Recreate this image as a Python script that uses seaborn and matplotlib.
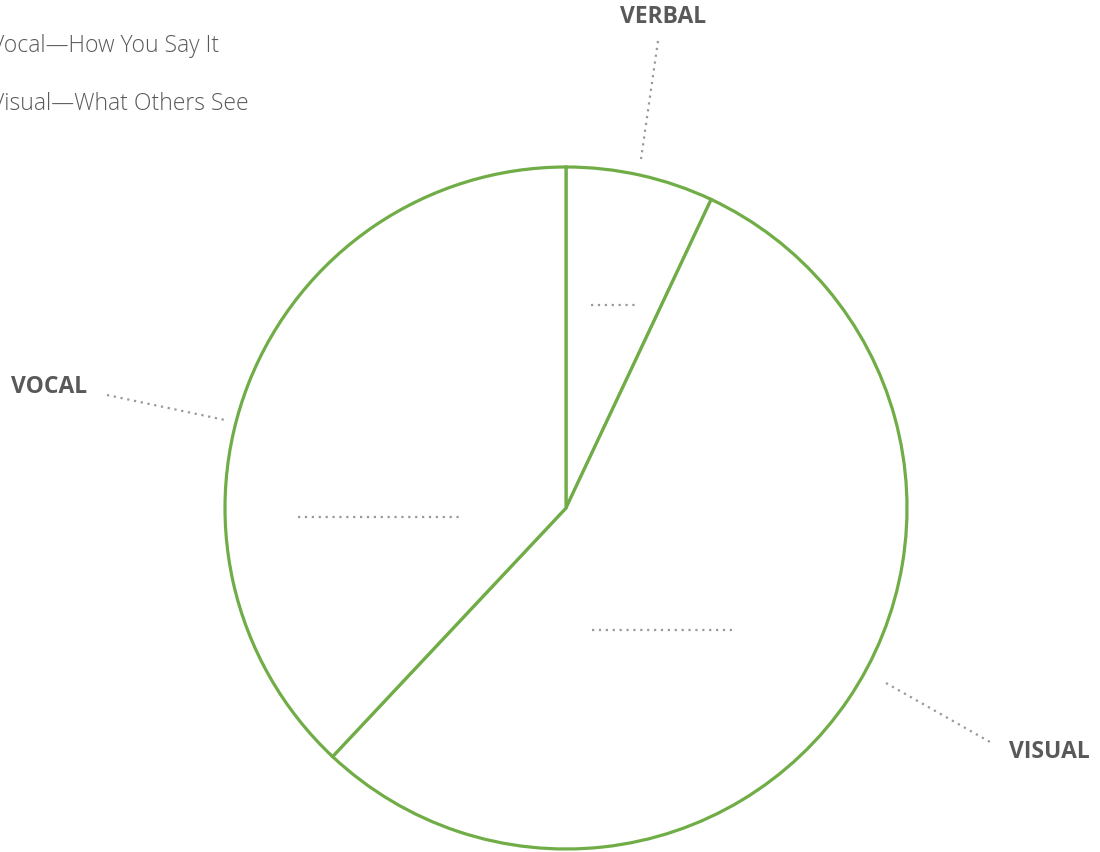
import matplotlib
matplotlib.use("Agg")
import matplotlib.pyplot as plt
import seaborn as sns

# share of the message (Mehrabian), clockwise from 12 o'clock
categories = ["VERBAL", "VISUAL", "VOCAL"]
shares = [7, 55, 38]
# the key at top left runs off the edge of the slide in the source
legend_lines = ["Vocal\u2014How You Say It", "Visual\u2014What Others See"]

W, H = 1100, 853
GREEN = "#70AD47"
TEXT = "#595959"
DOTS = "#999999"

sns.set_theme(style="white")
plt.rcParams["font.family"] = ["Open Sans", "DejaVu Sans"]

fig = plt.figure(figsize=(W / 100, H / 100), dpi=100)
ax = fig.add_axes([0, 0, 1, 1])


def fy(y):
    # pixel row -> data y
    return H - y


ax.pie(shares, startangle=90, counterclock=False,
       center=(566, fy(509)), radius=341,
       colors=["white"] * len(shares),
       wedgeprops=dict(edgecolor=GREEN, linewidth=2.3))

ax.set_xlim(0, W)
ax.set_ylim(0, H)
ax.set_aspect("equal")
ax.axis("off")

dot_style = dict(color=DOTS, linewidth=1.6, linestyle=(0, (1, 2.1)))

# leader lines to the outside labels
leaders = {
    "VERBAL": ((658, 42), (641, 160), (663, 17), "center"),
    "VOCAL": ((107, 396), (225, 421), (11, 387), "left"),
    "VISUAL": ((886, 684), (990, 743), (1009, 752), "left"),
}
for name in categories:
    p0, p1, lab, ha = leaders[name]
    ax.plot([p0[0], p1[0]], [fy(p0[1]), fy(p1[1])], **dot_style)
    ax.text(lab[0], fy(lab[1]), name, ha=ha, va="center",
            fontsize=16.5, fontweight="bold", color=TEXT)

# short dotted lines inside the slices
inner = {"VERBAL": (591, 637, 306), "VOCAL": (298, 461, 518), "VISUAL": (592, 733, 631)}
for name in categories:
    x0, x1, y = inner[name]
    ax.plot([x0, x1], [fy(y), fy(y)], **dot_style)

# key text, partly off the left edge as in the source
for i, line in enumerate(legend_lines):
    ax.text(-9, fy(46 + 58 * i), line, ha="left", va="center",
            fontsize=16.5, color=TEXT, fontweight="light")

fig.savefig("out.png", dpi=100)
